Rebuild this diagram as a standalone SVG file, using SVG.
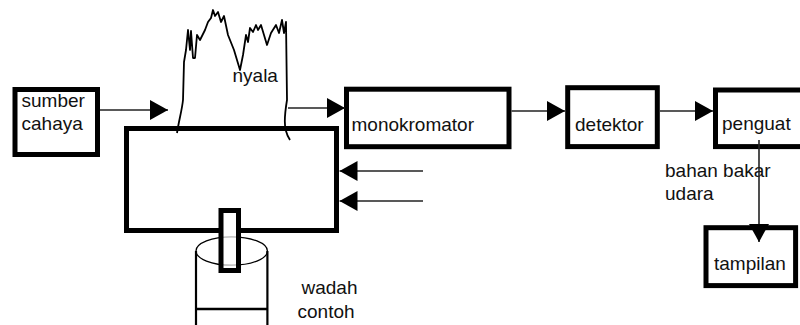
<svg xmlns="http://www.w3.org/2000/svg" width="800" height="325" viewBox="0 0 800 325">
<style>
  .box { fill: #fff; stroke: #000; stroke-width: 5; }
  .t { font-family: "Liberation Sans", Arial, sans-serif; font-size: 19px; fill: #111; }
  .c { stroke: #222; stroke-width: 1.6; fill: none; }
  .thin { stroke: #000; fill: none; }
</style>
<defs>
  <marker id="ah" markerUnits="userSpaceOnUse" markerWidth="18" markerHeight="20" refX="18" refY="10" orient="auto">
    <path d="M0,0 L18,10 L0,20 z" fill="#000"/>
  </marker>
</defs>
<rect width="800" height="325" fill="#fff"/>

<g id="sumber-cahaya">
  <rect class="box" x="15" y="89.5" width="82.5" height="65"/>
  <text class="t" x="21.5" y="107">sumber</text>
  <text class="t" x="21.5" y="130">cahaya</text>
</g>

<g id="burner">
  <rect class="box" x="126.5" y="128.5" width="210" height="102" fill="none"/>
</g>

<g id="nyala">
  <path class="thin" stroke-width="1.8" stroke-linejoin="round" d="M177,133 C179,120 182,110 183,100 L184,62 L186,50 L188,30 L190,50 L191,31 L193,58 L195,58 L197,35 L200,40 L205,30 L208,22 L211,18 L213,10 L215,16 L218,12 L221,22 L224,16 L228,35 L234,50 L240,70 L243,55 L246,35 L248,42 L250,28 L253,32 L256,25 L258,30 L261,25 L264,35 L267,45 L271,33 L276,25 L279,33 L282,20 L284,33 L286,22 L287,100 C285,112 284,125 286,131 C287,135 288,137 290,140"/>
  <text class="t" x="232.5" y="82">nyala</text>
</g>

<g id="wadah-contoh">
  <rect x="221" y="210.5" width="17.5" height="60" fill="#fff"/>
  <ellipse class="thin" stroke-width="1.3" cx="231.7" cy="251" rx="35.7" ry="14.2"/>
  <line class="thin" stroke-width="2.2" x1="196" y1="251" x2="196" y2="326"/>
  <line class="thin" stroke-width="2.2" x1="267.4" y1="251" x2="267.4" y2="326"/>
  <line class="thin" stroke-width="2.5" x1="196" y1="309" x2="267.4" y2="309"/>
  <rect x="221" y="210.5" width="17.5" height="60" fill="#fff" fill-opacity="0.7" stroke="#000" stroke-width="5"/>
  <text class="t" x="301.5" y="294">wadah</text>
  <text class="t" x="297.5" y="317.5">contoh</text>
</g>

<g id="monokromator">
  <rect class="box" x="346.5" y="89.2" width="162.5" height="57.5"/>
  <text class="t" x="351.5" y="131">monokromator</text>
</g>

<g id="detektor">
  <rect class="box" x="567.7" y="87.7" width="89.6" height="58.9" stroke-width="5.5"/>
  <text class="t" x="575" y="131">detektor</text>
</g>

<g id="penguat">
  <rect class="box" x="715.5" y="90" width="100" height="56.6" stroke-width="5.5"/>
  <text class="t" x="722" y="130">penguat</text>
</g>

<g id="tampilan">
  <rect class="box" x="706" y="227.7" width="89.6" height="57.9" stroke-width="5.5"/>
  <text class="t" x="714" y="270">tampilan</text>
</g>

<g id="label-bahan-bakar">
  <text class="t" x="665" y="177">bahan bakar</text>
  <text class="t" x="665" y="200">udara</text>
</g>

<g id="connectors">
  <line class="c" x1="100" y1="110" x2="168" y2="110" marker-end="url(#ah)"/>
  <line class="c" x1="288" y1="108" x2="345" y2="108" marker-end="url(#ah)"/>
  <line class="c" x1="511.5" y1="111" x2="565" y2="111" marker-end="url(#ah)"/>
  <line class="c" x1="660" y1="111" x2="713" y2="111" marker-end="url(#ah)"/>
  <line class="c" x1="759" y1="140" x2="759" y2="242" marker-end="url(#ah)"/>
  <line class="c" x1="423" y1="171" x2="339.5" y2="171" marker-end="url(#ah)"/>
  <line class="c" x1="423" y1="201" x2="339.5" y2="201" marker-end="url(#ah)"/>
</g>
</svg>
